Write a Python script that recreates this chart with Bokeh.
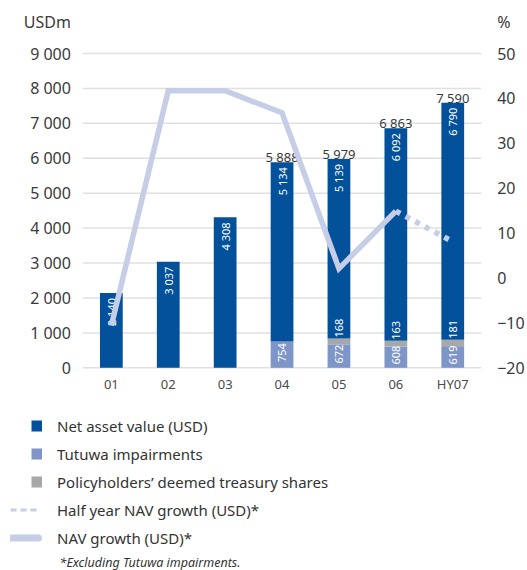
import math
from bokeh.plotting import figure
from bokeh.models import Range1d, LinearAxis, FixedTicker, Label, Legend, LegendItem
from bokeh.embed import file_html
from bokeh.resources import INLINE
from bokeh.core.properties import value

# ---- data ----
categories = ["01", "02", "03", "04", "05", "06", "HY07"]
nav = [2140, 3037, 4308, 5134, 5139, 6092, 6790]
tutuwa = [0, 0, 0, 754, 672, 608, 619]
treasury = [0, 0, 0, 0, 168, 163, 181]
totals = [None, None, None, 5888, 5979, 6863, 7590]
nav_growth = [-10.6, 41.7, 41.7, 36.8, 2.1, 14.9]          # 01 .. 06
hy_growth_cats = ["06", "HY07"]
hy_growth = [14.9, 8.1]
left_ticks = [0, 1000, 2000, 3000, 4000, 5000, 6000, 7000, 8000, 9000]
right_ticks = [-20, -10, 0, 10, 20, 30, 40, 50]
left_unit = "USDm"
right_unit = "%"
legend_labels = ["Net asset value (USD)", "Tutuwa impairments",
                 "Policyholders\u2019 deemed treasury shares",
                 "Half year NAV growth (USD)*", "NAV growth (USD)*"]
footnote = "*Excluding Tutuwa impairments."

# ---- styles ----
C_NAV = "#03519b"
C_TUT = "#7e95c8"
C_TRE = "#a7a8aa"
C_LINE = "#c5cde7"
C_GRID = "#e0e0e0"
C_TEXT = "#3a3a3a"
FONT = "Noto Sans"

def fmt(v):
    return f"{v:,}".replace(",", " ")

W, H = 527, 570
PLOT_L, PLOT_R = 82.4, 480.7      # pixel extent of the category axis
ZERO_Y, TOP_Y = 367.3, 53.0       # pixel rows of 0 and 9 000
n = len(categories)
PXX = (PLOT_R - PLOT_L) / n
PX = (ZERO_Y - TOP_Y) / 9000.0
XMIN, XMAX = -PLOT_L / PXX, n + (W - PLOT_R) / PXX
YMIN, YMAX = -(H - ZERO_Y) / PX, ZERO_Y / PX
RMIN = -20 + YMIN * 70 / 9000
RMAX = -20 + YMAX * 70 / 9000
Y_UNIT = (ZERO_Y - 21) / PX
R_UNIT = -20 + Y_UNIT * 70 / 9000

xs = [i + 0.5 for i in range(n)]
xpos = {c: i + 0.5 for i, c in enumerate(categories)}

p = figure(width=W, height=H, x_range=Range1d(XMIN, XMAX), y_range=Range1d(YMIN, YMAX),
           output_backend="svg", toolbar_location=None, min_border=0)
p.outline_line_color = None
p.extra_y_ranges = {"pct": Range1d(RMIN, RMAX)}
p.xgrid.visible = False
p.ygrid.visible = False

rax = LinearAxis(y_range_name="pct", ticker=FixedTicker(ticks=right_ticks + [R_UNIT]),
                 fixed_location=n)
rax.major_label_overrides = {R_UNIT: right_unit}
p.add_layout(rax, "right")

xax = p.xaxis[0]
xax.fixed_location = 0
xax.ticker = FixedTicker(ticks=xs)
xax.major_label_overrides = {x: c for x, c in zip(xs, categories)}
lax = p.yaxis[0]
lax.fixed_location = 0
lax.ticker = FixedTicker(ticks=left_ticks + [Y_UNIT])
ov = {t: fmt(t) for t in left_ticks}
ov[Y_UNIT] = left_unit
lax.major_label_overrides = ov

for ax in p.axis:
    ax.axis_line_color = None
    ax.major_tick_line_color = None
    ax.minor_tick_line_color = None
    ax.major_tick_out = 0
    ax.major_tick_in = 0
    ax.major_label_text_font = FONT
    ax.major_label_text_color = C_TEXT
lax.major_label_text_font_size = "16px"
lax.major_label_standoff = 12
rax.major_label_text_font_size = "16px"
rax.major_label_standoff = 16
xax.major_label_text_font_size = "13px"
xax.major_label_text_color = "#4a4a4a"
xax.major_label_standoff = 7

# horizontal grid lines over the category extent
p.segment(x0=[0] * len(left_ticks), x1=[n] * len(left_ticks), y0=left_ticks, y1=left_ticks,
          line_color=C_GRID, line_width=1.5)

# stacked bars
BW = 0.40
t_x = [x for x, t in zip(xs, tutuwa) if t > 0]
t_top = [t for t in tutuwa if t > 0]
p.vbar(x=t_x, width=BW, bottom=0, top=t_top, fill_color=C_TUT, line_color=None)

tr_x, tr_b, tr_t = [], [], []
for x, t, r in zip(xs, tutuwa, treasury):
    if r > 0:
        tr_x.append(x); tr_b.append(t); tr_t.append(t + r)
p.vbar(x=tr_x, width=BW, bottom=tr_b, top=tr_t, fill_color=C_TRE, line_color=None)

nb = [t + r for t, r in zip(tutuwa, treasury)]
nt = [b + v for b, v in zip(nb, nav)]
p.vbar(x=xs, width=BW, bottom=nb, top=nt, fill_color=C_NAV, line_color=None)

# labels inside bars
p.text(x=xs, y=nt, text=[fmt(v) for v in nav], angle=math.pi / 2,
       text_align="right", text_baseline="middle", y_offset=5,
       text_color="white", text_font=value(FONT), text_font_size="11px")
p.text(x=t_x, y=[t / 2 for t in t_top], text=[fmt(v) for v in t_top],
       angle=math.pi / 2, text_align="center", text_baseline="middle", y_offset=-2,
       text_color="white", text_font=value(FONT), text_font_size="11px")
p.text(x=tr_x, y=tr_t, text=[fmt(r) for r in treasury if r > 0],
       angle=math.pi / 2, text_align="left", text_baseline="middle", y_offset=-1,
       text_color="white", text_font=value(FONT), text_font_size="11px")

# totals above bars
tot_x = [x for x, t in zip(xs, totals) if t is not None]
tot_v = [t for t in totals if t is not None]
p.text(x=tot_x, y=tot_v, text=[fmt(t) for t in tot_v], text_align="center",
       text_baseline="alphabetic", y_offset=-5, text_color=C_TEXT,
       text_font=value(FONT), text_font_size="13px")

# growth lines
p.line(x=xs[:len(nav_growth)], y=nav_growth, y_range_name="pct",
       line_color=C_LINE, line_width=5.5, line_join="miter")
p.line(x=[xpos[c] for c in hy_growth_cats], y=hy_growth, y_range_name="pct",
       line_color=C_LINE, line_width=5.5, line_dash="5 6")

# ---- legend (proxy renderers: a single off-view point each, only legend styling) ----
px0, py0 = [XMIN - 5], [YMIN - 5000]
sq_dash = "0 21 11 100"
lr = [
    p.line(x=px0, y=py0, line_color=C_NAV, line_width=11, line_dash=sq_dash),
    p.line(x=px0, y=py0, line_color=C_TUT, line_width=11, line_dash=sq_dash),
    p.line(x=px0, y=py0, line_color=C_TRE, line_width=11, line_dash=sq_dash),
    p.line(x=px0, y=py0, line_color=C_LINE, line_width=3, line_dash="6 4 6 4 6 100"),
    p.line(x=px0, y=py0, line_color=C_LINE, line_width=7, line_cap="round",
           line_dash="0 3 25 100"),
]
legend = Legend(items=[LegendItem(label=l, renderers=[r]) for l, r in zip(legend_labels, lr)],
                location=(10, 22), orientation="vertical",
                glyph_width=32, glyph_height=21, label_height=21, label_standoff=15,
                spacing=7, padding=0, margin=0,
                border_line_color=None, background_fill_color=None,
                label_text_font=FONT, label_text_font_size="15px",
                label_text_color="#333333")
p.add_layout(legend)

p.add_layout(Label(x=(59 - PLOT_L) / PXX, y=(ZERO_Y - 562) / PX, text=footnote,
                   text_align="left", text_baseline="alphabetic",
                   text_font=FONT, text_font_size="12.5px", text_font_style="italic",
                   text_color="#333333"))

open("out.html", "w").write(file_html(p, INLINE))
